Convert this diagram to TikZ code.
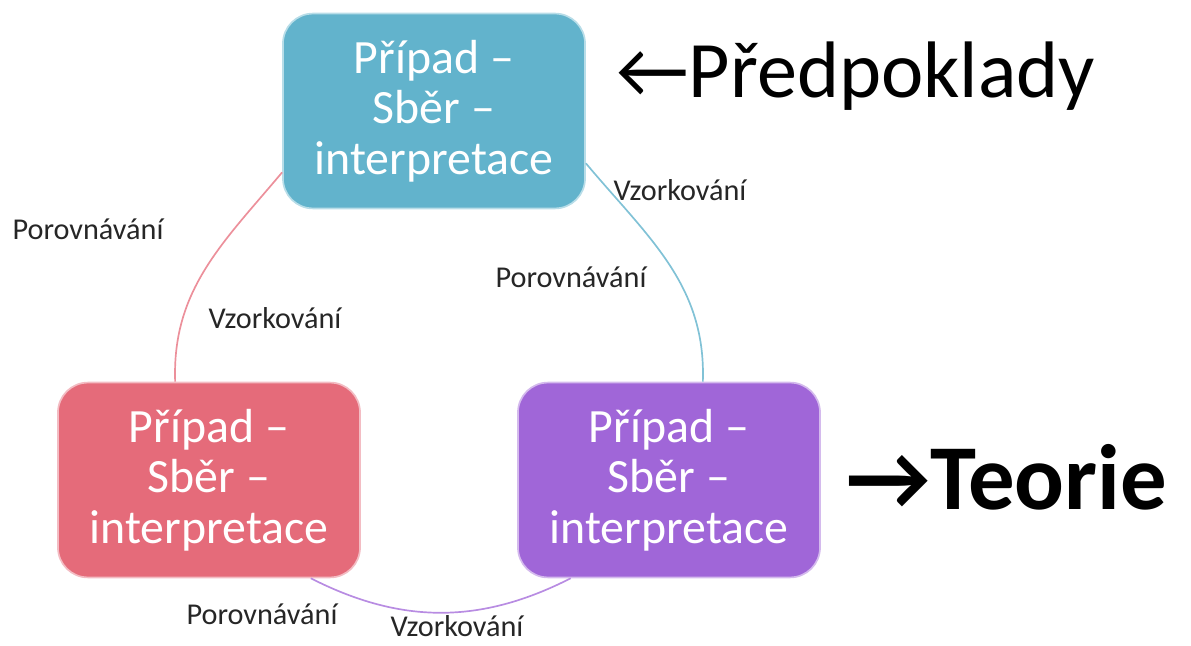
\documentclass[tikz,border=0pt]{standalone}
\usepackage{fontspec}
\setmainfont{Carlito}
\definecolor{casetop}{RGB}{98,179,204}
\definecolor{caseleft}{RGB}{229,107,122}
\definecolor{caseright}{RGB}{160,102,216}
\definecolor{labelgray}{RGB}{38,38,38}
\begin{document}
\begin{tikzpicture}[x=0.025cm,y=0.025cm]
    \tikzstyle{case}=[rounded corners=0.75cm, minimum width=7.55cm, minimum height=4.87cm,
        align=center, text=white, line width=1.2pt, font=\fontsize{34}{36}\selectfont]
    \tikzstyle{step label}=[text=labelgray, inner sep=1pt, font=\fontsize{21.5}{24}\selectfont]
    \tikzstyle{cycle arc}=[line width=1.2pt]
    \useasboundingbox (0,0) rectangle (1191,645);
    % the three cases
    \node[case, fill=casetop, draw=casetop!45!white] (top) at (434,534) {Případ –\\Sběr –\\interpretace};
    \node[case, fill=caseleft, draw=caseleft!45!white] (left) at (209,165) {Případ –\\Sběr –\\interpretace};
    \node[case, fill=caseright, draw=caseright!45!white] (right) at (669,165) {Případ –\\Sběr –\\interpretace};
    % arcs between them
    \draw[cycle arc, caseleft!75!white] (top.202) to[out=230, in=92] (left.109);
    \draw[cycle arc, casetop!80!white] (top.-19) to[out=-50, in=88] (right.71);
    \draw[cycle arc, caseright!75!white] (left.-44) to[bend right=27] (right.225);
    % labels
    \node[step label] (cmp1) at (88,416) {Porovnávání};
    \node[step label] (smp1) at (275,327) {Vzorkování};
    \node[step label] (smp2) at (680,455) {Vzorkování};
    \node[step label] (cmp2) at (571,368) {Porovnávání};
    \node[step label] (cmp3) at (262,31) {Porovnávání};
    \node[step label] (smp3) at (457,19) {Vzorkování};
    \node[anchor=base west, inner sep=0pt, font=\fontsize{57}{60}\selectfont] (assume) at (616,547) {←Předpoklady};
    \node[anchor=base west, inner sep=0pt, font=\bfseries\fontsize{66}{70}\selectfont] (theory) at (846,135) {→Teorie};
\end{tikzpicture}
\end{document}
